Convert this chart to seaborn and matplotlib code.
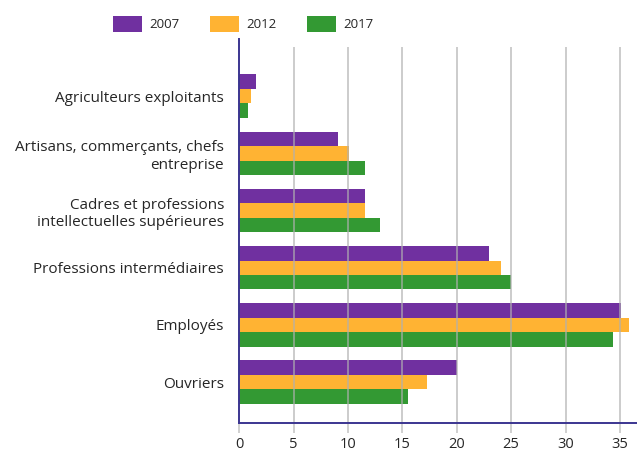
import matplotlib
matplotlib.use("Agg")
import matplotlib.pyplot as plt
import seaborn as sns
import pandas as pd

categories = [
    "Agriculteurs exploitants",
    "Artisans, commerçants, chefs\nentreprise",
    "Cadres et professions\nintellectuelles supérieures",
    "Professions intermédiaires",
    "Employés",
    "Ouvriers",
]
years = ["2007", "2012", "2017"]
values_2007 = [1.5, 9.1, 11.6, 23.0, 35.1, 20.0]
values_2012 = [1.1, 10.1, 11.6, 24.1, 35.8, 17.3]
values_2017 = [0.8, 11.6, 12.9, 25.0, 34.4, 15.5]
colors = ["#7030A0", "#FFB333", "#339933"]
xticks = [0, 5, 10, 15, 20, 25, 30, 35]

rows = []
for yr, vals in zip(years, [values_2007, values_2012, values_2017]):
    for c, v in zip(categories, vals):
        rows.append({"cat": c, "year": yr, "val": v})
df = pd.DataFrame(rows)

sns.set_theme(style="white")
plt.rcParams["font.family"] = ["Open Sans", "DejaVu Sans"]

fig = plt.figure(figsize=(6.37, 4.54), dpi=100)
ax = fig.add_axes([0.3757, 0.0676, 0.6243, 0.8465])

sns.barplot(data=df, y="cat", x="val", hue="year", order=categories,
            hue_order=years, palette=colors, orient="h", width=0.76,
            saturation=1, edgecolor="none", linewidth=0, ax=ax, legend=True)

ax.set_xlim(0, 36.57)
ax.set_ylim(5.72, -1.0)
ax.set_xlabel("")
ax.set_ylabel("")

# gridlines drawn over bars
ax.vlines(xticks[1:], 5.72, -0.86, colors="#b0b0b0", linewidth=1.2,
          alpha=0.75, zorder=5)

ax.set_xticks(xticks)
ax.set_xticklabels([str(t) for t in xticks])
ax.tick_params(axis="x", length=7, width=1.2, color="#c8c8c8", pad=2.5,
               labelsize=10.5, labelcolor="#262626", bottom=True)
ax.tick_params(axis="y", length=0, pad=11, labelsize=11, labelcolor="#262626")
for lab in ax.get_yticklabels():
    lab.set_horizontalalignment("right")
    lab.set_multialignment("right")
    lab.set_linespacing(1.25)

for s in ["top", "right"]:
    ax.spines[s].set_visible(False)
for s in ["left", "bottom"]:
    ax.spines[s].set_color("#3b3590")
    ax.spines[s].set_linewidth(1.4)
    ax.spines[s].set_zorder(6)

handles, labels = ax.get_legend_handles_labels()
ax.get_legend().remove()
fig.legend(handles, labels, loc="center", bbox_to_anchor=(0.382, 0.947),
           ncol=3, frameon=False, fontsize=9.5, handlelength=2.2,
           handleheight=1.5, handletextpad=0.55, columnspacing=2.3,
           labelcolor="#262626")

fig.savefig("out.png", dpi=100)
